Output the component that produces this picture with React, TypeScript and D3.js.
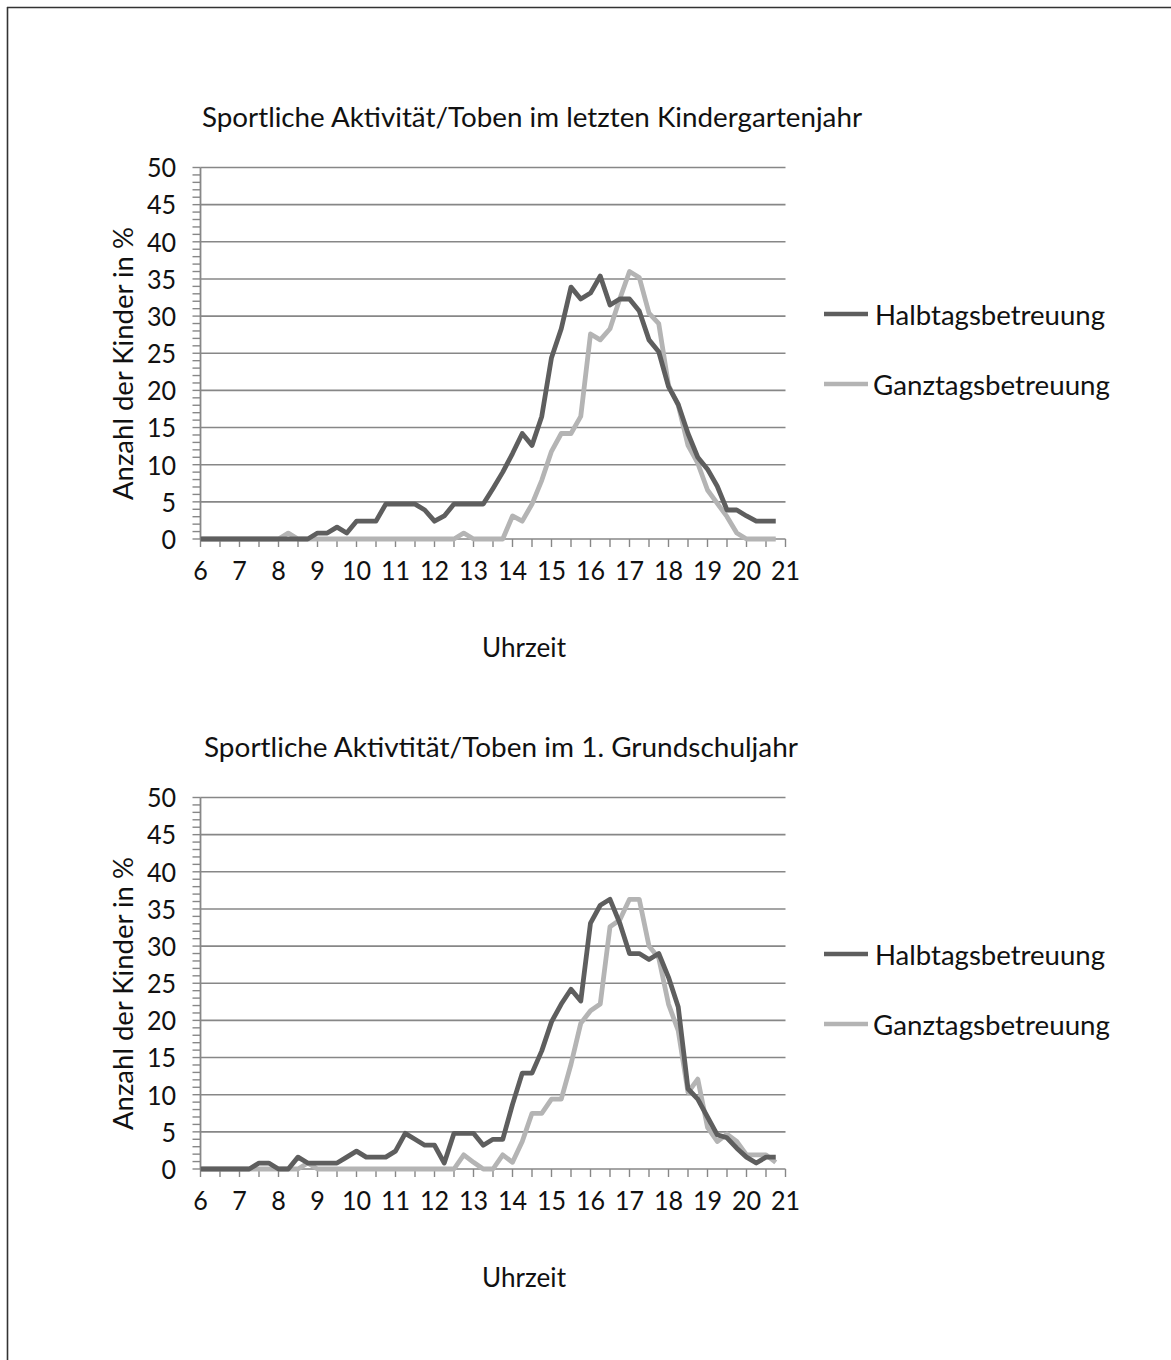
import React from 'react';
import * as d3 from 'd3';

const times = [
  6, 6.25, 6.5, 6.75, 7, 7.25, 7.5, 7.75, 8, 8.25, 8.5, 8.75,
  9, 9.25, 9.5, 9.75, 10, 10.25, 10.5, 10.75, 11, 11.25, 11.5, 11.75,
  12, 12.25, 12.5, 12.75, 13, 13.25, 13.5, 13.75, 14, 14.25, 14.5, 14.75,
  15, 15.25, 15.5, 15.75, 16, 16.25, 16.5, 16.75, 17, 17.25, 17.5, 17.75,
  18, 18.25, 18.5, 18.75, 19, 19.25, 19.5, 19.75, 20, 20.25, 20.5, 20.75,
];

const kgHalbtags = [
  0, 0, 0, 0, 0, 0, 0, 0, 0, 0, 0, 0,
  0.8, 0.8, 1.6, 0.8, 2.4, 2.4, 2.4, 4.7, 4.7, 4.7, 4.7, 3.9,
  2.4, 3.1, 4.7, 4.7, 4.7, 4.7, 6.8, 9.0, 11.5, 14.2, 12.6, 16.5,
  24.4, 28.3, 33.9, 32.3, 33.1, 35.4, 31.5, 32.3, 32.3, 30.7, 26.8, 25.2,
  20.5, 18.1, 14.2, 11.0, 9.4, 7.1, 3.9, 3.9, 3.1, 2.4, 2.4, 2.4,
];

const kgGanztags = [
  0, 0, 0, 0, 0, 0, 0, 0, 0, 0.8, 0, 0,
  0, 0, 0, 0, 0, 0, 0, 0, 0, 0, 0, 0,
  0, 0, 0, 0.8, 0, 0, 0, 0, 3.1, 2.4, 4.7, 7.9,
  11.8, 14.2, 14.2, 16.5, 27.6, 26.8, 28.3, 32.3, 36.0, 35.2, 30.4, 29.0,
  20.7, 18.0, 12.6, 10.2, 6.6, 4.8, 3.0, 0.8, 0, 0, 0, 0,
];

const gsHalbtags = [
  0, 0, 0, 0, 0, 0, 0.8, 0.8, 0, 0, 1.6, 0.8,
  0.8, 0.8, 0.8, 1.6, 2.4, 1.6, 1.6, 1.6, 2.4, 4.8, 4.0, 3.2,
  3.2, 0.8, 4.8, 4.8, 4.8, 3.2, 4.0, 4.0, 8.7, 12.9, 12.9, 15.9,
  19.8, 22.2, 24.2, 22.6, 33.1, 35.5, 36.3, 33.1, 29.0, 29.0, 28.2, 29.0,
  25.8, 21.8, 10.8, 9.4, 7.0, 4.6, 4.2, 2.8, 1.6, 0.8, 1.6, 1.6,
];

const gsGanztags = [
  0, 0, 0, 0, 0, 0, 0, 0, 0, 0, 0, 0.8,
  0, 0, 0, 0, 0, 0, 0, 0, 0, 0, 0, 0,
  0, 0, 0, 1.9, 0.9, 0, 0, 1.9, 0.9, 3.7, 7.5, 7.5,
  9.4, 9.4, 14.1, 19.6, 21.3, 22.2, 32.6, 33.5, 36.3, 36.3, 30.0, 28.4,
  22.2, 18.6, 10.3, 12.1, 5.6, 3.7, 4.7, 3.7, 1.9, 1.9, 1.9, 0.9,
];

const yTickValues = [0, 5, 10, 15, 20, 25, 30, 35, 40, 45, 50];
const xTickValues = [6, 7, 8, 9, 10, 11, 12, 13, 14, 15, 16, 17, 18, 19, 20, 21];
const seriesNames = ['Halbtagsbetreuung', 'Ganztagsbetreuung'];
const chartTitles = [
  'Sportliche Aktivität/Toben im letzten Kindergartenjahr',
  'Sportliche Aktivtität/Toben im 1. Grundschuljahr',
];
const xAxisTitle = 'Uhrzeit';
const yAxisTitle = 'Anzahl der Kinder in %';

const FONT = 'Lato, "Open Sans", sans-serif';
const DARK = '#5e5e5e';
const LIGHT = '#b4b4b4';
const GRID = '#878787';
const SX = 0.93;

function Chart({ top, title, titleX, titleW, halb, ganz, legendY }: any) {
  const x = d3.scaleLinear().domain([6, 21]).range([200.5, 785.5]);
  const y = d3.scaleLinear().domain([0, 50]).range([top + 371.5, top]);
  const line = d3
    .line<number>()
    .x((_, i) => x(times[i]))
    .y((d) => y(d));
  const minorY = d3.range(0, 51, 1);
  const halfX = d3.range(6, 21.01, 0.5);
  const base = y(0);
  return (
    <g>
      <text
        x={titleX}
        y={top - 41}
        fontFamily={FONT}
        fontSize={27}
        fill="#111"
        textLength={titleW}
        lengthAdjust="spacingAndGlyphs"
      >
        {title}
      </text>
      {yTickValues.map((v) => (
        <line key={'g' + v} x1={x(6)} x2={x(21)} y1={y(v)} y2={y(v)} stroke={GRID} strokeWidth={1.6} />
      ))}
      {minorY.map((v) => (
        <line key={'m' + v} x1={x(6) - 8} x2={x(6)} y1={y(v)} y2={y(v)} stroke={GRID} strokeWidth={1.4} />
      ))}
      <line x1={x(6)} x2={x(6)} y1={y(50)} y2={base} stroke={GRID} strokeWidth={1.8} />
      {halfX.map((v) => (
        <line key={'x' + v} x1={x(v)} x2={x(v)} y1={base} y2={base + 8} stroke={GRID} strokeWidth={1.4} />
      ))}
      {yTickValues.map((v) => (
        <g key={'yl' + v} transform={`translate(176,${y(v) + 9.8}) scale(${SX},1)`}>
          <text textAnchor="end" fontFamily={FONT} fontSize={27} fill="#111">
            {v}
          </text>
        </g>
      ))}
      {xTickValues.map((v) => (
        <g key={'xl' + v} transform={`translate(${x(v)},${base + 41}) scale(${SX},1)`}>
          <text textAnchor="middle" fontFamily={FONT} fontSize={27} fill="#111">
            {v}
          </text>
        </g>
      ))}
      <text
        x={524}
        y={top + 489}
        textAnchor="middle"
        fontFamily={FONT}
        fontSize={27}
        fill="#111"
        textLength={84}
        lengthAdjust="spacingAndGlyphs"
      >
        {xAxisTitle}
      </text>
      <text
        transform={`translate(133,${top + 196}) rotate(-90)`}
        textAnchor="middle"
        fontFamily={FONT}
        fontSize={27}
        fill="#111"
        textLength={273}
        lengthAdjust="spacingAndGlyphs"
      >
        {yAxisTitle}
      </text>
      <path d={line(ganz) || ''} fill="none" stroke={LIGHT} strokeWidth={4.8} strokeLinejoin="round" />
      <path d={line(halb) || ''} fill="none" stroke={DARK} strokeWidth={4.8} strokeLinejoin="round" />
      {seriesNames.map((name, i) => (
        <g key={name}>
          <line
            x1={824}
            x2={868}
            y1={legendY[i]}
            y2={legendY[i]}
            stroke={i === 0 ? DARK : LIGHT}
            strokeWidth={4.5}
          />
          <text
            x={i === 0 ? 875 : 873}
            y={legendY[i] + 11}
            fontFamily={FONT}
            fontSize={27}
            fill="#111"
            textLength={i === 0 ? 230 : 237}
            lengthAdjust="spacingAndGlyphs"
          >
            {name}
          </text>
        </g>
      ))}
    </g>
  );
}

export default function App() {
  return (
    <svg
      width={1171}
      height={1360}
      style={{ position: 'absolute', left: 0, top: 0, background: '#fff' }}
    >
      <rect x={0} y={0} width={1171} height={1360} fill="#fff" />
      <line x1={7} x2={1171} y1={7.5} y2={7.5} stroke="#333" strokeWidth={1.6} />
      <line x1={7.5} x2={7.5} y1={7} y2={1360} stroke="#333" strokeWidth={1.6} />
      <Chart
        top={167.5}
        title={chartTitles[0]}
        titleX={202}
        titleW={660}
        halb={kgHalbtags}
        ganz={kgGanztags}
        legendY={[314, 384]}
      />
      <Chart
        top={797.5}
        title={chartTitles[1]}
        titleX={204}
        titleW={594}
        halb={gsHalbtags}
        ganz={gsGanztags}
        legendY={[954, 1024]}
      />
    </svg>
  );
}
